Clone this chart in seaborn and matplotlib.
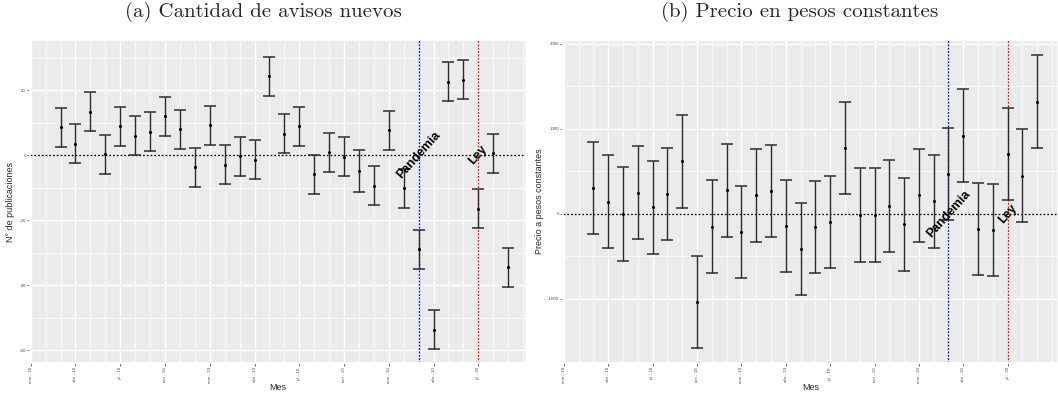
import numpy as np
import pandas as pd
import seaborn as sns
import matplotlib.pyplot as plt
from matplotlib.ticker import FixedLocator

# meses con datos (marzo 2018 a septiembre 2020)
periodos = pd.period_range('2018-03', '2020-09', freq='M')

avisos_media = [8.5, 3.4, 13.3, 0.3, 8.8, 6.0, 7.1, 12.0, 8.0, -3.7,
                9.2, -3.0, -0.3, -1.5, 24.3, 6.5, 8.8, -5.9, 0.8, -0.6,
                -5.0, -9.5, 7.6, -10.2, -29.0, -53.8, 22.5, 23.1, -16.6, 0.6,
                -34.5]
avisos_err = [6.0, 6.0, 6.0, 6.0, 6.0, 6.0, 6.0, 6.0, 6.0, 6.0,
              6.0, 6.0, 6.0, 6.0, 6.0, 6.0, 6.0, 6.0, 6.0, 6.0,
              6.5, 6.0, 6.0, 6.0, 6.0, 6.0, 6.0, 6.0, 6.0, 6.0,
              6.0]

precio_media = [306, 145, 0, 250, 80, 235, 620, -1035, -150, 280,
                -210, 220, 270, -140, -410, -155, -95, 775, -10, -10,
                95, -120, 220, 150, 470, 920, -175, -190, 705, 450,
                1320]
precio_err = [545, 545, 550, 545, 545, 545, 545, 545, 545, 545,
              545, 545, 545, 545, 545, 545, 545, 545, 550, 550,
              545, 545, 545, 545, 545, 545, 545, 545, 545, 545,
              545]

tick_labels = ['ene - 18', 'abr - 18', 'jul - 18', 'oct - 18', 'ene - 19', 'abr - 19',
               'jul - 19', 'oct - 19', 'ene - 20', 'abr - 20', 'jul - 20']
fecha_pandemia = pd.Period('2020-03', freq='M')
fecha_ley = pd.Period('2020-07', freq='M')

inicio = pd.Period('2018-01', freq='M')
mes_idx = [(p - inicio).n for p in periodos]
x_pandemia = (fecha_pandemia - inicio).n
x_ley = (fecha_ley - inicio).n

df_avisos = pd.DataFrame({'mes': mes_idx, 'media': avisos_media, 'err': avisos_err})
df_precio = pd.DataFrame({'mes': mes_idx, 'media': precio_media, 'err': precio_err})

sns.set_theme(style="darkgrid", rc={'axes.facecolor': '#EBEBEB', 'grid.color': 'white'})
plt.rcParams['font.family'] = ['Liberation Sans', 'DejaVu Sans']

fig = plt.figure(figsize=(10.58, 3.94), dpi=100)
ax1 = fig.add_axes([30 / 1058, 31 / 394, 496 / 1058, 323 / 394])
ax2 = fig.add_axes([563 / 1058, 31 / 394, 495 / 1058, 323 / 394])


def panel(ax, df, yticks, ylim, xlim, ylabel):
    ax.errorbar(df['mes'], df['media'], yerr=df['err'], fmt='none', ecolor='#2b2b2b',
                elinewidth=1.0, capsize=4.3, capthick=1.1, zorder=2)
    sns.scatterplot(data=df, x='mes', y='media', ax=ax, color='black', s=5,
                    linewidth=0, zorder=3)
    ax.axhline(0, color='black', ls=(0, (1.5, 1.5)), lw=0.9, zorder=1)
    ax.axvline(x_pandemia, color='blue', ls=(0, (1.5, 1.2)), lw=0.9, zorder=1)
    ax.axvline(x_ley, color='red', ls=(0, (1.5, 1.2)), lw=0.9, zorder=1)
    ax.text(x_pandemia, 0, 'Pandemia', rotation=48, ha='center', va='center',
            fontsize=9, fontweight='bold', color='black', zorder=4)
    ax.text(x_ley, 0, 'Ley', rotation=48, ha='center', va='center',
            fontsize=9, fontweight='bold', color='black', zorder=4)

    ax.set_xlim(*xlim)
    ax.set_ylim(*ylim)
    ax.xaxis.set_major_locator(FixedLocator(list(range(0, 31, 3))))
    ax.xaxis.set_minor_locator(FixedLocator(list(range(0, 34))))
    ax.set_xticklabels(tick_labels, rotation=90)
    ax.set_yticks(yticks)
    ax.set_yticklabels([str(v) for v in yticks])
    ax.yaxis.set_minor_locator(FixedLocator([v + (yticks[0] - yticks[1]) / 2 for v in yticks]))
    ax.grid(True, which='major', color='white', lw=0.9)
    ax.grid(True, which='minor', color='white', lw=0.5)
    ax.tick_params(axis='both', which='major', labelsize=3.2, labelcolor='#4D4D4D',
                   color='#333333', length=2, width=0.5, pad=1, bottom=True, left=True)
    ax.tick_params(axis='both', which='minor', length=0)
    ax.set_xlabel('Mes', fontsize=6.5, labelpad=0)
    ax.set_ylabel(ylabel, fontsize=6.5, labelpad=3)


panel(ax1, df_avisos, [20, 0, -20, -40, -60], (-64, 35.4), (-0.05, 33.2),
      'N° de publicaciones')
panel(ax2, df_precio, [2000, 1000, 0, -1000], (-1753, 2047), (-0.05, 33.4),
      'Precio a pesos constantes')

fig.text(263 / 1058, 1 - 12 / 394, '(a) Cantidad de avisos nuevos', fontfamily='cmr10',
         fontsize=15, ha='center', va='center')
fig.text(800 / 1058, 1 - 12 / 394, '(b) Precio en pesos constantes', fontfamily='cmr10',
         fontsize=15, ha='center', va='center')

fig.savefig('out.png', dpi=100)
plt.close()
